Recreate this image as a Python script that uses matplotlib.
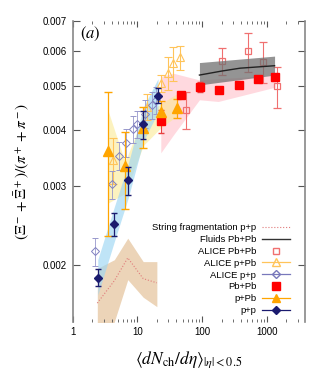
import numpy as np
import matplotlib.pyplot as plt
from matplotlib.lines import Line2D

plt.rcParams['font.family'] = ['Liberation Sans', 'DejaVu Sans']
plt.rcParams['mathtext.fontset'] = 'stix'

# p+p (filled diamonds)
pp_x = [2.44, 4.40, 7.24, 12.4, 20.8]
pp_y = [0.00188, 0.00247, 0.00309, 0.00412, 0.00477]
pp_err = [0.00008, 0.00015, 0.00022, 0.00030, 0.00018]
pp_band_lo = [0.00172, 0.00226, 0.00283, 0.00378, 0.00438]
pp_band_hi = [0.00206, 0.00270, 0.00337, 0.00450, 0.00520]

# p+Pb (filled triangles)
ppb_x = [3.48, 6.44, 12.4, 23.2, 40.6]
ppb_y = [0.00359, 0.00332, 0.00404, 0.00439, 0.00447]
ppb_lo = [0.00233, 0.00267, 0.00365, 0.00415, 0.00425]
ppb_hi = [0.00486, 0.00397, 0.00450, 0.00465, 0.00470]
ppb_band_x = [3.48, 6.44, 12.4, 23.2, 41.0]
ppb_band_lo = [0.00275, 0.00289, 0.00370, 0.00405, 0.00430]
ppb_band_hi = [0.00444, 0.00340, 0.00430, 0.00458, 0.00482]

# Pb+Pb (filled squares)
pbpb_x = [23.2, 47.3, 93.0, 185, 373, 726, 1343]
pbpb_y = [0.00419, 0.00479, 0.00498, 0.00491, 0.00503, 0.00519, 0.00524]
pbpb_err = [0.00024, 0.00008, 0.00013, 0.00006, 0.00005, 0.00006, 0.00006]
pbpb_band_x = [23.0, 36.0, 91.0, 178, 1340]
pbpb_band_lo = [0.00356, 0.00390, 0.00467, 0.00463, 0.00498]
pbpb_band_hi = [0.00526, 0.00535, 0.00517, 0.00520, 0.00530]

# ALICE p+p (open diamonds)
apP_x = [2.21, 3.98, 5.26, 6.74, 8.56, 9.87, 12.9, 16.7, 19.4]
apP_y = [0.00215, 0.00303, 0.00351, 0.00375, 0.00402, 0.00413, 0.00435, 0.00455, 0.00467]

# ALICE p+Pb (open triangles)
apPb_x = [4.24, 13.9, 23.2, 30.1, 35.9, 45.6]
apPb_y = [0.00344, 0.00451, 0.00509, 0.00537, 0.00563, 0.00580]
apPb_err = [0.00040, 0.00030, 0.00022, 0.00045, 0.00050, 0.00035]

# ALICE Pb+Pb (open squares)
aPbPb_x = [56.5, 201, 519, 886, 1427]
aPbPb_y = [0.00444, 0.00570, 0.00598, 0.00568, 0.00500]
aPbPb_err = [0.00042, 0.00040, 0.00060, 0.00060, 0.00052]

# Fluids Pb+Pb
fl_x = [91, 201, 386, 788, 1320]
fl_y = [0.00530, 0.00541, 0.00549, 0.00553, 0.00556]
fl_band_x = [91, 1320]
fl_band_lo = [0.00504, 0.00530]
fl_band_hi = [0.00565, 0.00584]

# String fragmentation p+p
sf_x = [2.4, 4.4, 7.1, 12.3, 20.0]
sf_y = [0.00165, 0.00185, 0.00208, 0.00187, 0.00183]
sf_lo = [0.00120, 0.00150, 0.00186, 0.00170, 0.00162]
sf_hi = [0.00197, 0.00206, 0.00230, 0.00204, 0.00204]

navy = '#1b1b6f'
orange = '#ffa500'
red = '#ff0000'

fig = plt.figure(figsize=(3.32, 3.80), dpi=100)
ax = fig.add_axes([0.219, 0.1534, 0.6997, 0.7921])

# bands
ax.fill_between(sf_x, sf_lo, sf_hi, color='#ecd4b8', lw=0, zorder=1)
ax.fill_between(pbpb_band_x, pbpb_band_lo, pbpb_band_hi, color='#ffd3da', alpha=0.85, lw=0, zorder=1)
ax.fill_between(ppb_band_x, ppb_band_lo, ppb_band_hi, color='#fbe98c', alpha=0.55, lw=0, zorder=1.1)
ax.fill_between(pp_x, pp_band_lo, pp_band_hi, color='#9dd6f3', alpha=0.65, lw=0, zorder=1.2)

# ALICE data
ax.errorbar(aPbPb_x, aPbPb_y, yerr=aPbPb_err, fmt='s', ms=5, mfc='none', mec='#f07070',
            mew=0.9, ecolor='#f07070', elinewidth=0.8, capsize=3, zorder=2)
ax.errorbar(apPb_x, apPb_y, yerr=apPb_err, fmt='^', ms=6, mfc='none', mec='#ffc45a',
            mew=0.8, ecolor='#ffc45a', elinewidth=0.8, capsize=3, zorder=2)
ax.errorbar(apP_x, apP_y, yerr=np.array(apP_y) * 0.07, fmt='D', ms=4.2, mfc='none', mec='#8080c0',
            mew=0.7, ecolor='#9898cc', elinewidth=0.6, capsize=2.5, zorder=2)

# fluids
ax.fill_between(fl_band_x, fl_band_lo, fl_band_hi, color='#707070', alpha=0.75, lw=0, zorder=2.5)
ax.plot(fl_x, fl_y, color='#222222', lw=1, zorder=2.6)
ax.plot(sf_x, sf_y, color='#e07a7a', lw=0.8, ls=':', zorder=2.6)

# model-calculation points
ax.errorbar(pbpb_x, pbpb_y, yerr=pbpb_err, fmt='s', ms=6, color=red, ecolor='#e84040',
            elinewidth=0.8, capsize=2.5, zorder=3)
ax.errorbar(ppb_x, ppb_y, yerr=[np.array(ppb_y) - np.array(ppb_lo), np.array(ppb_hi) - np.array(ppb_y)],
            fmt='^', ms=6.5, color=orange, elinewidth=0.9, capsize=3, zorder=3)
ax.errorbar(pp_x, pp_y, yerr=pp_err, fmt='D', ms=4.5, color=navy, elinewidth=0.9, capsize=2.5, zorder=3.1)

ax.set_xscale('log')
ax.set_yscale('log')
ax.set_xlim(1, 3900)
ax.set_ylim(0.0015, 0.007)

yt = [0.002, 0.003, 0.004, 0.005, 0.006, 0.007]
ax.set_yticks(yt)
ax.set_yticklabels(['0.002', '0.003', '0.004', '0.005', '0.006', '0.007'])
ax.yaxis.set_minor_locator(plt.NullLocator())
ax.set_xticks([1, 10, 100, 1000])
ax.set_xticklabels(['1', '10', '100', '1000'])

for s in ['top', 'bottom']:
    ax.spines[s].set_visible(False)
for s in ['left', 'right']:
    ax.spines[s].set_color('#888888')
    ax.spines[s].set_linewidth(1.2)

ax.tick_params(axis='both', which='both', direction='in', top=True, right=True, color='#555555',
               labelsize=7, pad=4)
ax.tick_params(axis='y', which='major', length=5, width=0.8)
ax.tick_params(axis='x', which='major', length=4, width=0.8)
ax.tick_params(axis='x', which='minor', length=2.5, width=0.6)

ax.set_ylabel(r'$(\Xi^- + \bar{\Xi}^+)/(\pi^+ + \pi^-)$', fontsize=11, labelpad=8)
ax.set_xlabel(r'$\langle dN_{\rm ch}/d\eta\rangle_{|\eta|<0.5}$', fontsize=12.5, labelpad=9)
ax.text(0.03, 0.985, r'$(a)$', transform=ax.transAxes, fontsize=12, va='top', ha='left')

handles = [
    Line2D([], [], color='#e07a7a', ls=':', lw=0.8),
    Line2D([], [], color='#333333', lw=1),
    Line2D([], [], marker='s', ms=5, mfc='none', mec='#f07070', ls='none'),
    Line2D([], [], marker='^', ms=5.5, mfc='none', mec='#ffc45a', color='#ffc45a', lw=0.9),
    Line2D([], [], marker='D', ms=4.2, mfc='none', mec='#7878bb', color='#7878bb', lw=0.9),
    Line2D([], [], marker='s', ms=6, color=red, ls='none'),
    Line2D([], [], marker='^', ms=6, color=orange, lw=0.9),
    Line2D([], [], marker='D', ms=4.5, color=navy, lw=0.9),
]
labels = ['String fragmentation p+p', 'Fluids Pb+Pb', 'ALICE Pb+Pb', 'ALICE p+Pb',
          'ALICE p+p', 'Pb+Pb', 'p+Pb', 'p+p']
ax.legend(handles, labels, loc='lower right', bbox_to_anchor=(0.965, 0.0), frameon=False,
          markerfirst=False, fontsize=6.8, handlelength=3.0, handletextpad=0.6,
          labelspacing=0.3, borderpad=0.2)

fig.savefig('out.png', dpi=100)
